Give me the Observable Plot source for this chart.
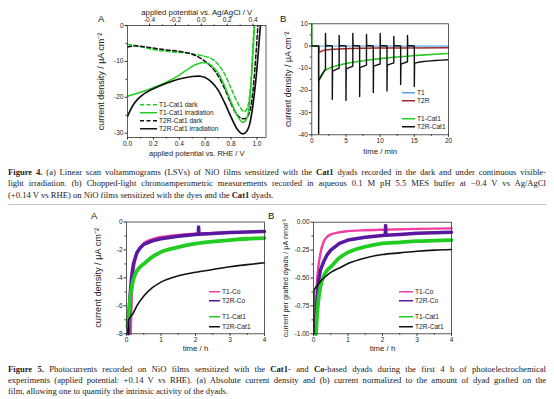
<!DOCTYPE html>
<html><head><meta charset="utf-8">
<script src="https://cdn.jsdelivr.net/npm/d3@7"></script>
<script src="https://cdn.jsdelivr.net/npm/@observablehq/plot@0.6"></script>
<style>
body{margin:0;background:#fff;}
#fig{position:relative;width:554px;height:399px;overflow:hidden;background:#fff;font-family:"Liberation Sans",Arial,sans-serif;}
.plot{position:absolute;}
.panel{position:absolute;font-size:9.5px;color:#111;line-height:1;}
.leg{position:absolute;font-size:6.6px;color:#222;white-space:nowrap;line-height:1;transform:translateY(-50%);display:flex;align-items:center;}
.cap{position:absolute;left:8px;display:inline-block;font-family:"Liberation Serif","Times New Roman",serif;font-size:8.6px;color:#222;white-space:nowrap;line-height:1;}
.sep{position:absolute;left:8px;width:538px;top:204px;height:0;border-top:1.2px solid #b9c7d6;}
</style></head>
<body>
<div id="fig"></div>
<script>
// ---------- Figure 4A: LSV (current density vs applied potential vs RHE) ----------
const rheTicks = [0, 0.2, 0.4, 0.6, 0.8, 1.0];
const agclTicks = [-0.4, -0.2, 0.0, 0.2, 0.4];
const agclOffset = 0.57;               // RHE = Ag/AgCl + offset (as drawn)
const y4aTicks = [0, -10, -20, -30];
const t1DarkV = [0,0.05,0.1,0.15,0.2,0.3,0.4,0.45,0.5,0.55,0.6,0.65,0.7,0.75,0.8,0.85,0.88,0.9,0.92,0.94,0.96,0.975,0.985];
const t1DarkJ = [-5.3,-5.5,-5.9,-6.3,-6.7,-7.2,-7.5,-7.6,-7.9,-8.2,-8.6,-9.3,-10.8,-13.5,-17.5,-21.5,-23.3,-24,-23.4,-20.5,-12,-1,6];
const t1IrrV = [0,0.1,0.2,0.3,0.4,0.45,0.5,0.55,0.58,0.62,0.65,0.7,0.75,0.8,0.85,0.89,0.92,0.94,0.96,0.98,0.99];
const t1IrrJ = [-19.7,-18.6,-17.3,-15.8,-13.8,-12.6,-11.4,-10.6,-10.3,-10.5,-11.2,-13.2,-16.8,-21.3,-25.2,-27,-26,-22.5,-13.5,-1,6];
const t2rDarkV = [0,0.05,0.1,0.2,0.3,0.4,0.5,0.55,0.6,0.65,0.7,0.75,0.8,0.85,0.9,0.93,0.96,0.98,1.0,1.015];
const t2rDarkJ = [-6.0,-5.7,-5.8,-6.3,-6.8,-7.2,-8.0,-8.8,-10.0,-11.6,-14.0,-17.5,-21.8,-25.0,-26.0,-25.2,-21,-14,-4,4];
const t2rIrrV = [0,0.03,0.06,0.1,0.2,0.3,0.4,0.5,0.55,0.6,0.65,0.7,0.75,0.8,0.85,0.89,0.92,0.95,0.98,1.0,1.02,1.035];
const t2rIrrJ = [-25.3,-23,-21.3,-19.8,-17.6,-16.1,-14.9,-14.2,-14.1,-14.5,-15.8,-18.0,-21.5,-25.5,-29.0,-30.2,-29.5,-26.5,-19,-12,-3,4];
const legend4A = ["T1-Cat1 dark", "T1-Cat1 irradiation", "T2R-Cat1 dark", "T2R-Cat1 irradiation"];

// ---------- Figure 4B: chopped-light chronoamperometry ----------
const x4bTicks = [0, 5, 10, 15, 20];
const y4bTicks = [10, 0, -10, -20, -30, -40];
const t1T = [0, 20];
const t1J = [0, -0.1];
const t2rT = [0, 1, 1.1, 1.5, 2, 3, 4, 6, 8, 10, 14, 20];
const t2rJ = [0, 0, -2.8, -2.2, -1.8, -1.5, -1.3, -1.1, -1.0, -0.9, -0.85, -0.8];
const t1CatT = [0, 0, 0.05, 1, 1, 1.05, 1.5, 2, 3, 4, 5, 6, 8, 10, 12, 14, 15, 16, 18, 20];
const t1CatJ = [10, 0.5, 0, 0, -15.5, -15, -12.5, -10.8, -9.5, -8.6, -7.9, -7.3, -6.4, -5.7, -5.1, -4.6, -4.3, -4.1, -3.7, -3.4];
const chopOn   = [1, 3, 5, 7, 9, 11, 13, 15];
const chopDown = [-40, -24, -24.5, -22.8, -21, -20.3, -17.3, -18.2];
const onStart  = [-15.5, -11.3, -10.3, -9.7, -9.1, -8.6, -8.2, -7.7];
const onEnd    = [-10.3, -10.0, -9.1, -8.6, -8.1, -7.6, -7.1];
const chopUp   = [5.6, 4.8, 5.6, 5.2, 5.6, 4.3, 4.8];
const tailT = [16, 17, 18, 19, 20];
const tailJ = [-7.1, -6.8, -6.55, -6.35, -6.2];
const legend4B = ["T1", "T2R", "T1-Cat1", "T2R-Cat1"];

// ---------- Figure 5: long-term photocurrents ----------
const x5Ticks = [0, 1, 2, 3, 4];
const y5aTicks = [0, -2, -4, -6, -8];
const y5bTicks = [0, -0.25, -0.5, -0.75, -1.0];
const coT1T  = [0.13,0.16,0.2,0.3,0.4,0.5,0.75,1,1.5,2,3,4];
const coT1A  = [-8,-5.5,-3.8,-2.3,-1.8,-1.5,-1.2,-1.05,-0.9,-0.82,-0.72,-0.66];
const coT2T  = [0.06,0.08,0.1,0.15,0.2,0.3,0.4,0.5,0.75,1,1.5,2,2.08,2.09,2.1,2.5,3,3.5,4];
const coT2A  = [-8,-6.5,-5.4,-3.9,-3.0,-2.2,-1.85,-1.6,-1.35,-1.2,-1.02,-0.9,-0.88,-0.35,-0.88,-0.82,-0.76,-0.71,-0.68];
const catT1T = [0.03,0.06,0.1,0.15,0.2,0.3,0.4,0.5,0.75,1,1.5,2,2.5,3,3.5,4];
const catT1A = [-7.5,-6.6,-5.6,-4.7,-4.1,-3.5,-3.2,-3.0,-2.5,-2.15,-1.8,-1.55,-1.4,-1.3,-1.2,-1.15];
const catT2T = [0.05,0.06,0.1,0.2,0.3,0.5,0.75,1,1.5,2,2.5,3,3.5,4];
const catT2A = [-8,-7,-6.85,-6.5,-6.0,-5.3,-4.7,-4.3,-3.85,-3.6,-3.4,-3.2,-3.05,-2.92];
// normalised per grafted dyad
const coT1Tb  = [0.05,0.08,0.1,0.15,0.2,0.3,0.4,0.5,0.75,1,1.5,2,3,4];
const coT1B   = [-1,-0.7,-0.55,-0.38,-0.28,-0.17,-0.13,-0.11,-0.09,-0.08,-0.072,-0.067,-0.06,-0.055];
const coT2Tb  = [0.06,0.1,0.15,0.2,0.3,0.4,0.5,0.75,1,1.5,2,2.08,2.09,2.1,2.5,3,3.5,4];
const coT2B   = [-1,-0.72,-0.52,-0.43,-0.35,-0.29,-0.25,-0.19,-0.16,-0.135,-0.12,-0.118,-0.03,-0.118,-0.11,-0.1,-0.095,-0.09];
const catT1Tb = [0.07,0.1,0.15,0.2,0.3,0.4,0.5,0.75,1,1.5,2,2.5,3,3.5,4];
const catT1B  = [-1,-0.85,-0.68,-0.58,-0.48,-0.43,-0.4,-0.32,-0.27,-0.22,-0.19,-0.18,-0.17,-0.165,-0.16];
const catT2Tb = [0.01,0.012,0.05,0.1,0.2,0.3,0.5,0.75,1,1.5,2,2.5,3,3.5,4];
const catT2B  = [-1,-0.62,-0.59,-0.57,-0.53,-0.5,-0.45,-0.41,-0.37,-0.32,-0.29,-0.275,-0.26,-0.25,-0.245];
const legend5 = ["T1-Co", "T2R-Co", "T1-Cat1", "T2R-Cat1"];

// ---------- captions ----------
const cap4 = [
  "<b>Figure 4.</b> (a) Linear scan voltammograms (LSVs) of NiO films sensitized with the <b>Cat1</b> dyads recorded in the dark and under continuous visible-",
  "light irradiation. (b) Chopped-light chronoamperometric measurements recorded in aqueous 0.1 M pH 5.5 MES buffer at \u22120.4 V vs Ag/AgCl",
  "(+0.14 V vs RHE) on NiO films sensitized with the dyes and the <b>Cat1</b> dyads."
];
const cap5 = [
  "<b>Figure 5.</b> Photocurrents recorded on NiO films sensitized with the <b>Cat1</b>- and <b>Co</b>-based dyads during the first 4 h of photoelectrochemical",
  "experiments (applied potential: +0.14 V vs RHE). (a) Absolute current density and (b) current normalized to the amount of dyad grafted on the",
  "film, allowing one to quantify the intrinsic activity of the dyads."
];

// ---------- colours ----------
const GREEN = "#22cc22", BLACK = "#111111", PINK = "#f23ea3", PURPLE = "#5b17a0", RED = "#9e2b2b", BLUE = "#55a6ef";

const zip = (xs, ys) => xs.map((x, i) => ({x, y: ys[i]}));
const mids = (ticks) => d3.pairs(ticks).map(([a, b]) => (a + b) / 2);
const fig = document.getElementById("fig");
const STYLE = {fontFamily: '"Liberation Sans", Arial, sans-serif', fontSize: "6.5px", color: "#222", background: "transparent", overflow: "visible"};
const AX = {tickSize: 2.5, tickPadding: 1.5, label: null, stroke: "#333"};
const MINOR = {tickSize: 1.5, label: null, tickFormat: () => "", stroke: "#333"};
const FRAME = Plot.frame({stroke: "#333", strokeWidth: 0.8});
const TITLE = {fontSize: 7.5, fill: "#222", textAnchor: "middle"};

function place(el, left, top) {
  const d = document.createElement("div");
  d.className = "plot"; d.style.left = left + "px"; d.style.top = top + "px";
  d.appendChild(el); fig.appendChild(d);
}
function addText(cls, html, left, top) {
  const d = document.createElement("div");
  d.className = cls; d.innerHTML = html; d.style.left = left + "px"; d.style.top = top + "px";
  fig.appendChild(d); return d;
}
function legendRow(x, y, label, color, width, dash, len) {
  const svg = `<svg width="${len}" height="4" style="margin-right:2px"><line x1="0" y1="2" x2="${len}" y2="2" stroke="${color}" stroke-width="${width}" ${dash ? `stroke-dasharray="${dash}"` : ""}/></svg>`;
  addText("leg", svg + label, x, y);
}

// ---------- Figure 4A ----------
const p4a = Plot.plot({
  width: 190, height: 165, marginLeft: 37, marginRight: 14.5, marginTop: 25, marginBottom: 28,
  x: {domain: [0, 1.07]}, y: {domain: [-31.2, 0]}, style: STYLE,
  marks: [
    Plot.axisX({...AX, ticks: rheTicks, tickFormat: d => d.toFixed(1)}),
    Plot.axisX({...MINOR, ticks: mids(rheTicks)}),
    Plot.axisX({...AX, anchor: "top", ticks: agclTicks.map(v => v + agclOffset), tickFormat: d => (Math.abs(d - agclOffset) < 1e-9 ? 0 : d - agclOffset).toFixed(1), tickPadding: 1}),
    Plot.axisX({...MINOR, anchor: "top", ticks: mids(agclTicks).map(v => v + agclOffset)}),
    Plot.axisY({...AX, ticks: y4aTicks, tickFormat: d => String(d)}),
    Plot.axisY({...MINOR, ticks: mids(y4aTicks)}),
    Plot.line(zip(t1DarkV, t1DarkJ), {x: "x", y: "y", stroke: GREEN, strokeWidth: 1.5, strokeDasharray: "4,2.5", curve: "monotone-x", clip: true}),
    Plot.line(zip(t2rDarkV, t2rDarkJ), {x: "x", y: "y", stroke: BLACK, strokeWidth: 1.5, strokeDasharray: "4,2.5", curve: "monotone-x", clip: true}),
    Plot.line(zip(t1IrrV, t1IrrJ), {x: "x", y: "y", stroke: GREEN, strokeWidth: 1.5, curve: "monotone-x", clip: true}),
    Plot.line(zip(t2rIrrV, t2rIrrJ), {x: "x", y: "y", stroke: BLACK, strokeWidth: 1.7, curve: "monotone-x", clip: true}),
    FRAME,
    Plot.text(["applied potential vs. RHE / V"], {...TITLE, frameAnchor: "bottom", dy: 18}),
    Plot.text(["applied potential vs. Ag/AgCl / V"], {...TITLE, fontSize: 7.8, frameAnchor: "top", dy: -16}),
    Plot.text(["current density / \u00b5A cm\u207b\u00b2"], {...TITLE, fontSize: 9, frameAnchor: "left", rotate: -90, dx: -26})
  ]
});
place(p4a, 90, 0);
addText("panel", "A", 98, 14);
const leg4AStyle = [[GREEN, "4,2.5"], [GREEN, null], [BLACK, "4,2.5"], [BLACK, null]];
const leg4AY = [105, 113, 121, 128.5];
legend4A.forEach((l, i) => legendRow(140, leg4AY[i], l, leg4AStyle[i][0], 1.5, leg4AStyle[i][1], 17));

// ---------- Figure 4B ----------
const blackChop = [{x: 0, y: 0}, {x: 1, y: 0}];
chopOn.forEach((t, i) => {
  blackChop.push({x: t, y: 0}, {x: t, y: chopDown[i]}, {x: t + 0.04, y: onStart[i]});
  if (i < onEnd.length) {
    blackChop.push({x: t + 1, y: onEnd[i]}, {x: t + 1, y: chopUp[i]}, {x: t + 1.04, y: 0.2}, {x: t + 2, y: 0});
  }
});
tailT.forEach((t, i) => blackChop.push({x: t, y: tailJ[i]}));

const p4b = Plot.plot({
  width: 180, height: 165, marginLeft: 36.3, marginRight: 7, marginTop: 23.3, marginBottom: 30.7,
  x: {domain: [0, 20]}, y: {domain: [-40, 10]}, style: STYLE,
  marks: [
    Plot.axisX({...AX, ticks: x4bTicks, tickFormat: d => String(d)}),
    Plot.axisX({...MINOR, ticks: mids(x4bTicks)}),
    Plot.axisY({...AX, ticks: y4bTicks, tickFormat: d => String(d)}),
    Plot.axisY({...MINOR, ticks: mids(y4bTicks)}),
    Plot.line(zip(t1T, t1J), {x: "x", y: "y", stroke: BLUE, strokeWidth: 1.2}),
    Plot.line(zip(t2rT, t2rJ), {x: "x", y: "y", stroke: RED, strokeWidth: 1.5, curve: "monotone-x"}),
    Plot.line(zip(t1CatT, t1CatJ), {x: "x", y: "y", stroke: GREEN, strokeWidth: 1.6}),
    Plot.line(blackChop, {x: "x", y: "y", stroke: BLACK, strokeWidth: 1.4, clip: true}),
    FRAME,
    Plot.text(["time / min"], {...TITLE, fontSize: 7.8, frameAnchor: "bottom", dy: 18.7}),
    Plot.text(["current density / \u00b5A cm\u207b\u00b2"], {...TITLE, fontSize: 8.8, frameAnchor: "left", rotate: -90, dx: -24})
  ]
});
place(p4b, 275, 0);
addText("panel", "B", 280, 14);
const leg4BColors = [BLUE, RED, GREEN, BLACK];
const leg4BY = [92.5, 101, 118.5, 126.5];
legend4B.forEach((l, i) => legendRow(402, leg4BY[i], l, leg4BColors[i], 1.5, null, 13));

// ---------- captions fig 4 ----------
const capLines = [];
cap4.forEach((h, i) => capLines.push([addText("cap", h, 8, [167.5, 179, 190.5][i]), i < 2]));
const sep = document.createElement("div"); sep.className = "sep"; fig.appendChild(sep);

// ---------- Figure 5A ----------
const p5a = Plot.plot({
  width: 185, height: 150, marginLeft: 41, marginRight: 6, marginTop: 13.5, marginBottom: 24.7,
  x: {domain: [0, 4]}, y: {domain: [-8, 0]}, style: STYLE,
  marks: [
    Plot.axisX({...AX, ticks: x5Ticks, tickFormat: d => String(d)}),
    Plot.axisX({...MINOR, ticks: mids(x5Ticks)}),
    Plot.axisY({...AX, ticks: y5aTicks, tickFormat: d => String(d)}),
    Plot.axisY({...MINOR, ticks: mids(y5aTicks)}),
    Plot.line(zip(coT1T, coT1A), {x: "x", y: "y", stroke: PINK, strokeWidth: 1.8, curve: "monotone-x"}),
    Plot.line(zip(coT2T, coT2A), {x: "x", y: "y", stroke: PURPLE, strokeWidth: 3.5, curve: "linear"}),
    Plot.line(zip(catT1T, catT1A), {x: "x", y: "y", stroke: GREEN, strokeWidth: 3.8, curve: "monotone-x"}),
    Plot.line(zip(catT2T, catT2A), {x: "x", y: "y", stroke: BLACK, strokeWidth: 1.6, curve: "monotone-x"}),
    FRAME,
    Plot.text(["time / h"], {...TITLE, fontSize: 7.8, frameAnchor: "bottom", dy: 16.7}),
    Plot.text(["current density / \u00b5A cm\u207b\u00b2"], {...TITLE, fontSize: 9.2, frameAnchor: "left", rotate: -90, dx: -28})
  ]
});
place(p5a, 85, 208);
addText("panel", "A", 91, 211);

// ---------- Figure 5B ----------
const p5b = Plot.plot({
  width: 190, height: 150, marginLeft: 43, marginRight: 9, marginTop: 13.7, marginBottom: 24.7,
  x: {domain: [0, 4]}, y: {domain: [-1, 0]}, style: STYLE,
  marks: [
    Plot.axisX({...AX, ticks: x5Ticks, tickFormat: d => String(d)}),
    Plot.axisX({...MINOR, ticks: mids(x5Ticks)}),
    Plot.axisY({...AX, ticks: y5bTicks, tickFormat: d => d.toFixed(2)}),
    Plot.axisY({...MINOR, ticks: mids(y5bTicks)}),
    Plot.line(zip(coT1Tb, coT1B), {x: "x", y: "y", stroke: PINK, strokeWidth: 2.4, curve: "monotone-x"}),
    Plot.line(zip(coT2Tb, coT2B), {x: "x", y: "y", stroke: PURPLE, strokeWidth: 3.5, curve: "linear"}),
    Plot.line(zip(catT1Tb, catT1B), {x: "x", y: "y", stroke: GREEN, strokeWidth: 3.8, curve: "monotone-x"}),
    Plot.line(zip(catT2Tb, catT2B), {x: "x", y: "y", stroke: BLACK, strokeWidth: 1.6, curve: "monotone-x"}),
    FRAME,
    Plot.text(["time / h"], {...TITLE, fontSize: 7.8, frameAnchor: "bottom", dy: 16.7}),
    Plot.text(["current per grafted dyads / \u00b5A nmol\u207b\u00b9"], {...TITLE, fontSize: 7.3, frameAnchor: "left", rotate: -90, dx: -28})
  ]
});
place(p5b, 270, 208);
addText("panel", "B", 268, 211);

const leg5Colors = [PINK, PURPLE, GREEN, BLACK];
const leg5Y = [292, 301, 317, 326.5];
legend5.forEach((l, i) => legendRow(209, leg5Y[i], l, leg5Colors[i], 1.5, null, 11));
legend5.forEach((l, i) => legendRow(399, leg5Y[i], l, leg5Colors[i], 1.5, null, 14));

cap5.forEach((h, i) => capLines.push([addText("cap", h, 8, [364.5, 375.5, 386.5][i]), i < 2]));

// justify caption lines to 538px
const CAPW = 538;
capLines.forEach(([el, just]) => {
  el.style.wordSpacing = "0px";
  let w = el.getBoundingClientRect().width;
  if (w > CAPW) {
    const fs = parseFloat(getComputedStyle(el).fontSize);
    el.style.fontSize = (fs * CAPW / w * 0.995) + "px";
    w = el.getBoundingClientRect().width;
  }
  if (just) {
    const n = (el.textContent.match(/ /g) || []).length;
    el.style.wordSpacing = ((CAPW - w) / n) + "px";
  }
});
</script>
</body></html>
